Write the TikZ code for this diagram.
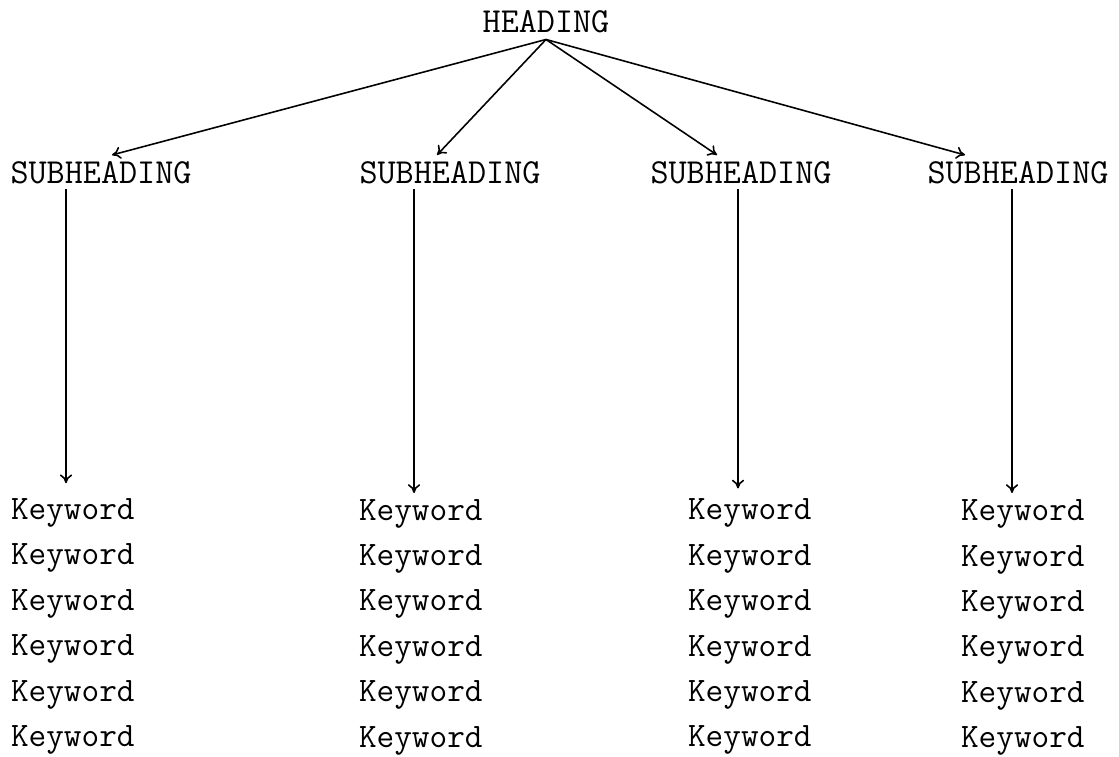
\documentclass[tikz,border=0pt]{standalone}
\usepackage{fontspec}
\usetikzlibrary{arrows.meta}

\begin{document}
\begin{tikzpicture}[x=0.02cm,y=-0.02cm,line width=0.9pt,>={To[length=5pt,width=7pt]}]
	\useasboundingbox (0,0) rectangle (1119,757);
	\begin{scope}[every node/.style={font=\ttfamily\fontsize{20}{24}\selectfont,inner sep=3pt}]
	\node [anchor=base] (H) at (546,33) {HEADING};
	\node [anchor=base] (S1) at (101,183) {SUBHEADING};
	\node [anchor=base] (S2) at (450,183) {SUBHEADING};
	\node [anchor=base] (S3) at (741,183) {SUBHEADING};
	\node [anchor=base] (S4) at (1018,183) {SUBHEADING};
	\end{scope}
	\begin{scope}[every node/.style={font=\ttfamily\fontsize{19.5}{23}\selectfont,inner sep=3pt,anchor=base west}]
	\node (K11) at (5,519) {Keyword};
	\node (K12) at (5,564) {Keyword};
	\node (K13) at (5,610) {Keyword};
	\node (K14) at (5,655) {Keyword};
	\node (K15) at (5,701) {Keyword};
	\node (K16) at (5,746) {Keyword};
	\node (K21) at (353,520) {Keyword};
	\node (K22) at (353,565) {Keyword};
	\node (K23) at (353,610) {Keyword};
	\node (K24) at (353,656) {Keyword};
	\node (K25) at (353,701) {Keyword};
	\node (K26) at (353,747) {Keyword};
	\node (K31) at (682,519) {Keyword};
	\node (K32) at (682,565) {Keyword};
	\node (K33) at (682,610) {Keyword};
	\node (K34) at (682,656) {Keyword};
	\node (K35) at (682,701) {Keyword};
	\node (K36) at (682,746) {Keyword};
	\node (K41) at (955,520) {Keyword};
	\node (K42) at (955,566) {Keyword};
	\node (K43) at (955,611) {Keyword};
	\node (K44) at (955,656) {Keyword};
	\node (K45) at (955,702) {Keyword};
	\node (K46) at (955,747) {Keyword};
	\end{scope}
	\draw [->] (H.south) -- ([xshift=0.22cm]S1.north);
	\draw [->] (H.south) -- ([xshift=-0.26cm]S2.north);
	\draw [->] (H.south) -- ([xshift=-0.48cm]S3.north);
	\draw [->] (H.south) -- ([xshift=-1.06cm]S4.north);
	\draw [->,shorten >=5pt] ([xshift=-0.7cm]S1.south) -- ([xshift=-0.7cm]S1.south |- K11.north);
	\draw [->] ([xshift=-0.72cm]S2.south) -- ([xshift=-0.72cm]S2.south |- K21.north);
	\draw [->,shorten >=2pt] ([xshift=-0.06cm]S3.south) -- ([xshift=-0.06cm]S3.south |- K31.north);
	\draw [->] ([xshift=-0.12cm]S4.south) -- ([xshift=-0.12cm]S4.south |- K41.north);
\end{tikzpicture}
\end{document}
